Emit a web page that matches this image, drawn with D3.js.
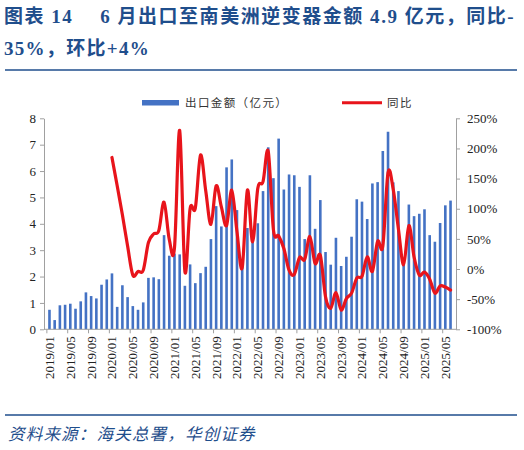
<!DOCTYPE html>
<html>
<head>
<meta charset="utf-8">
<script src="https://cdn.jsdelivr.net/npm/d3@7"></script>
<style>
  body { margin: 0; background: #fff; }
  svg { display: block; }
</style>
</head>
<body>
<div id="chart"></div>
<script>
// categories: monthly 2019/01 - 2025/06
const months = d3.timeMonths(new Date(2019, 0, 1), new Date(2025, 6, 1)).map(d3.timeFormat("%Y/%m"));

// 出口金额（亿元）
const exportValue = [
  0.74, 0.35, 0.91, 0.93, 0.97, 0.78, 1.06, 1.40, 1.26, 1.17, 1.69, 1.89,
  2.12, 0.85, 1.67, 1.22, 0.88, 0.74, 1.02, 1.95, 1.97, 1.90, 3.57, 2.79,
  2.87, 2.84, 1.65, 2.46, 1.75, 2.13, 2.37, 3.42, 4.67, 3.90, 6.14, 6.44,
  4.52, 2.60, 3.84, 3.40, 4.02, 5.24, 6.90, 5.73, 7.23, 5.30, 5.87, 5.84,
  5.40, 3.42, 5.84, 3.81, 4.90, 2.93, 2.45, 3.47, 2.40, 2.75, 3.51, 4.93,
  4.84, 4.18, 5.53, 5.58, 6.76, 7.49, 5.57, 5.24, 2.50, 4.73, 4.29, 4.38,
  4.55, 3.57, 3.32, 4.03, 4.70, 4.88
];

// 同比 (%)
const yoyPct = [
  null, null, null, null, null, null, null, null, null, null, null, null,
  185, 138, 90, 38, -10, -4, -2, 44, 58, 64, 111, 49,
  35, 230, -4, 100, 101, 189, 130, 74, 138, 103, 72, 131,
  62, 2, 131, 45, 134, 145, 195, 65, 55, 34, -2, -9,
  19, 16, 54, 9, 23, -46, -65, -39, -68, -49, -40, -15,
  -12, 20, -4, 46, 38, 160, 132, 66, 7, 72, 20, -10,
  -5, -17, -40, -28, -30, -35
];

const leftTicks = [0, 1, 2, 3, 4, 5, 6, 7, 8];
const rightTicks = [-100, -50, 0, 50, 100, 150, 200, 250];
const xTickLabels = [
  "2019/01", "2019/05", "2019/09", "2020/01", "2020/05", "2020/09",
  "2021/01", "2021/05", "2021/09", "2022/01", "2022/05", "2022/09",
  "2023/01", "2023/05", "2023/09", "2024/01", "2024/05", "2024/09",
  "2025/01", "2025/05"
];

const width = 524;
const height = 450;
const blue = "#1f4e8c";
const barColor = "#4472c4";
const lineColor = "#e8141b";
const axisColor = "#a0a0a0";
const serif = "'Liberation Serif', 'Times New Roman', 'Noto Sans CJK SC', serif";
const cjk = "'Noto Sans CJK SC', sans-serif";

const plot = { left: 44, right: 456, top: 118.3, bottom: 329.3 };

const svg = d3.select("#chart")
  .append("svg")
  .attr("width", width)
  .attr("height", height)
  .attr("viewBox", [0, 0, width, height]);

// title
const title = svg.append("g")
  .attr("fill", blue)
  .attr("font-family", serif)
  .attr("font-weight", "bold")
  .attr("font-size", 19)
  .attr("letter-spacing", 1.3);

title.append("text").attr("x", 4).attr("y", 23)
  .attr("textLength", 511)
  .attr("lengthAdjust", "spacing")
  .text("图表 14\u3000 6 月出口至南美洲逆变器金额 4.9 亿元，同比-");
title.append("text").attr("x", 4).attr("y", 55)
  .text("35%，环比+4%");

svg.append("line")
  .attr("x1", 5).attr("x2", 517)
  .attr("y1", 70).attr("y2", 70)
  .attr("stroke", blue)
  .attr("stroke-width", 1.6);

// scales
const x = d3.scaleBand()
  .domain(months)
  .range([plot.left, plot.right])
  .paddingInner(0.5)
  .paddingOuter(0.8);

const yLeft = d3.scaleLinear().domain([0, 8]).range([plot.bottom, plot.top]);
const yRight = d3.scaleLinear().domain([-100, 250]).range([plot.bottom, plot.top]);

// bars
svg.append("g")
  .attr("fill", barColor)
  .selectAll("rect")
  .data(exportValue)
  .join("rect")
  .attr("x", (d, i) => x(months[i]))
  .attr("width", x.bandwidth())
  .attr("y", (d) => yLeft(d))
  .attr("height", (d) => yLeft(0) - yLeft(d));

// yoy line
const line = d3.line()
  .defined((d) => d != null)
  .x((d, i) => x(months[i]) + x.bandwidth() / 2)
  .y((d) => yRight(d))
  .curve(d3.curveCatmullRom.alpha(0));

svg.append("path")
  .datum(yoyPct)
  .attr("fill", "none")
  .attr("stroke", lineColor)
  .attr("stroke-width", 3.2)
  .attr("stroke-linejoin", "round")
  .attr("stroke-linecap", "round")
  .attr("d", line);

// y axes
const styleAxis = (g) => {
  g.select(".domain").attr("stroke", axisColor);
  g.selectAll(".tick line").attr("stroke", axisColor);
  g.selectAll(".tick text")
    .attr("fill", "#222")
    .attr("font-family", serif)
    .attr("font-size", 13);
};

svg.append("g")
  .attr("transform", `translate(${plot.left},0)`)
  .call(d3.axisLeft(yLeft).tickValues(leftTicks).tickSize(4).tickSizeOuter(0).tickPadding(4))
  .call(styleAxis);

svg.append("g")
  .attr("transform", `translate(${plot.right},0)`)
  .call(d3.axisRight(yRight).tickValues(rightTicks).tickSize(4).tickSizeOuter(0).tickPadding(7)
    .tickFormat((d) => d + "%"))
  .call(styleAxis);

// x axis: ticks at slot boundaries, labels at band centres
const slotStart = (m) => x(m) - x.step() * x.paddingInner() / 2;
const xAxis = svg.append("g");

xAxis.append("line")
  .attr("x1", plot.left).attr("x2", plot.right)
  .attr("y1", plot.bottom).attr("y2", plot.bottom)
  .attr("stroke", axisColor);

xAxis.selectAll("line.tick")
  .data(xTickLabels)
  .join("line")
  .attr("class", "tick")
  .attr("x1", (d) => slotStart(d)).attr("x2", (d) => slotStart(d))
  .attr("y1", plot.bottom).attr("y2", plot.bottom + 4)
  .attr("stroke", axisColor);

xAxis.selectAll("text")
  .data(xTickLabels)
  .join("text")
  .attr("transform", (d) => `translate(${x(d) + x.bandwidth() / 2 + 4.5},${plot.bottom + 7}) rotate(-90)`)
  .attr("text-anchor", "end")
  .attr("fill", "#222")
  .attr("font-family", serif)
  .attr("font-size", 13)
  .text((d) => d);

// legend
const legend = svg.append("g")
  .attr("font-family", cjk)
  .attr("font-size", 11.5)
  .attr("letter-spacing", 1.4)
  .attr("fill", "#333");

legend.append("rect")
  .attr("x", 142).attr("y", 100)
  .attr("width", 37).attr("height", 5.5)
  .attr("fill", barColor);
legend.append("text").attr("x", 185).attr("y", 107).text("出口金额（亿元）");

legend.append("line")
  .attr("x1", 342).attr("x2", 382)
  .attr("y1", 102.7).attr("y2", 102.7)
  .attr("stroke", lineColor)
  .attr("stroke-width", 3);
legend.append("text").attr("x", 387).attr("y", 107).text("同比");

// source
svg.append("line")
  .attr("x1", 5).attr("x2", 517)
  .attr("y1", 415).attr("y2", 415)
  .attr("stroke", blue)
  .attr("stroke-width", 1.6);

svg.append("text")
  .attr("x", 8).attr("y", 440)
  .attr("fill", blue)
  .attr("font-family", cjk)
  .attr("font-style", "italic")
  .attr("font-size", 16.5)
  .attr("letter-spacing", 1.2)
  .text("资料来源：海关总署，华创证券");
</script>
</body>
</html>
